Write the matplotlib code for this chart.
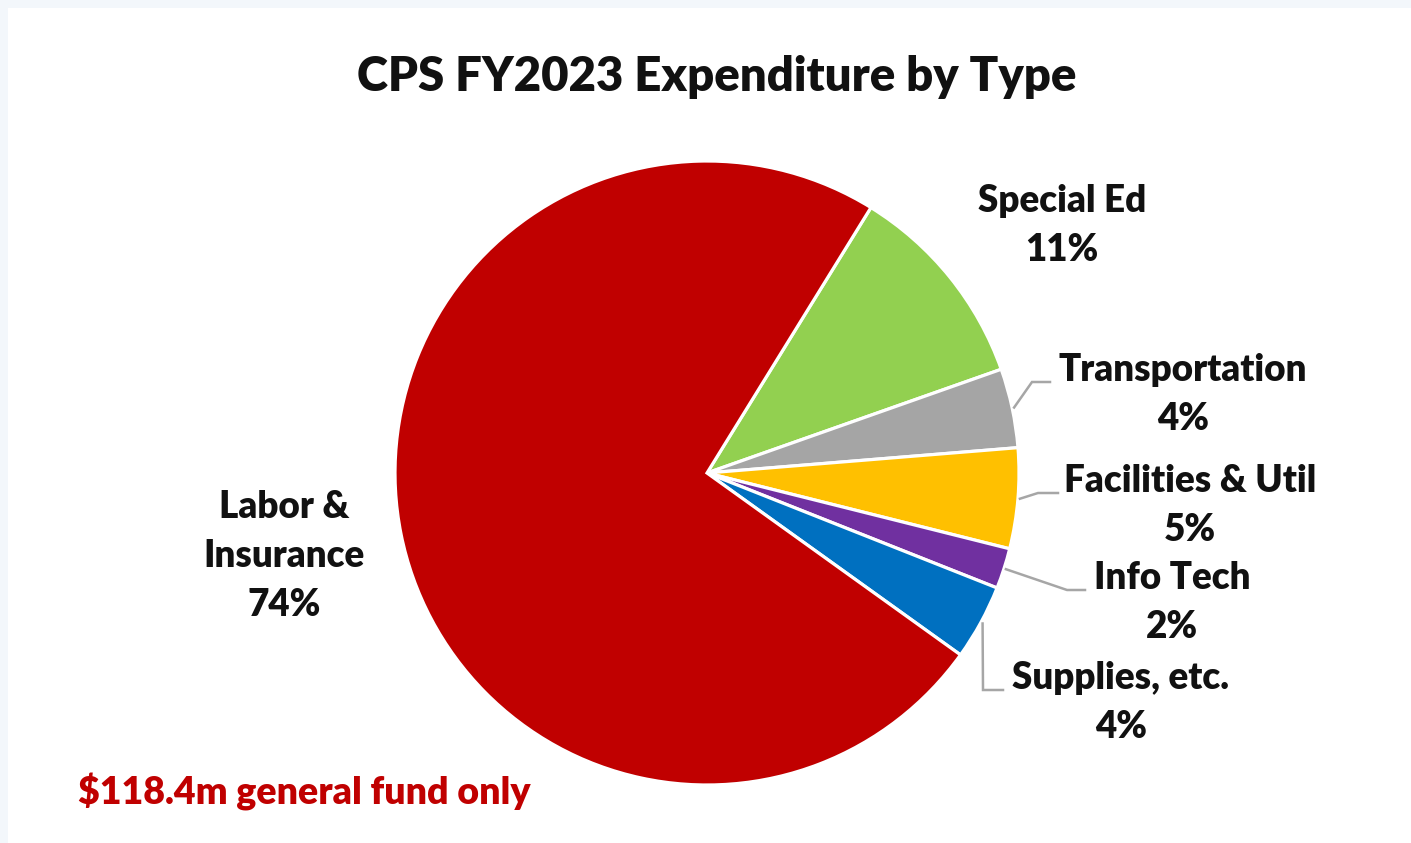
"""
CPS FY2023 지출 유형별 파이 차트
"""

import matplotlib.pyplot as plt
from matplotlib.patches import Rectangle
import numpy as np

# ── 데이터 ──────────────────────────────────────────
CATEGORIES = ["Special Ed", "Transportation", "Facilities & Util",
              "Info Tech", "Supplies, etc.", "Labor &\nInsurance"]
SHARES     = [10.8, 4.1, 5.2, 2.1, 3.9, 73.9]
PCT_TEXT   = ["11%", "4%", "5%", "2%", "4%", "74%"]
COLORS     = ["#92D050", "#A5A5A5", "#FFC000", "#7030A0", "#0070C0", "#C00000"]

TITLE = "CPS FY2023 Expenditure by Type"
NOTE  = "$118.4m general fund only"

# ── 레이아웃 (픽셀, 좌상단 원점) ─────────────────────
W, H = 1411, 843
CENTER = (707, 473)
RADIUS = 312
LINE_GAP = 49
# 라벨 첫 줄 중심
LABEL_TOP = [(1062, 201), (1183, 370), (1190, 481), (1172, 578), (1121, 678), (284, 507)]
# 지시선 (꺾이는 점, 끝점)
LEADERS = [None,
           ((1032, 382), (1050, 382)),
           ((1038, 493), (1058, 493)),
           ((1067, 590), (1085, 590)),
           ((983, 690), (1003, 690)),
           None]

FONT = ["Lato", "DejaVu Sans"]


def px(x, y):
    return x, H - y


fig = plt.figure(figsize=(W / 100, H / 100), dpi=100)
fig.patch.set_facecolor("#F3F7FB")
ax = fig.add_axes([0, 0, 1, 1])
ax.set_facecolor("none")
ax.add_patch(Rectangle((8, 0), W, H - 8, facecolor="white",
                       edgecolor="none", zorder=-10))

wedges, _ = ax.pie(SHARES, colors=COLORS, startangle=58.3, counterclock=False,
                   center=px(*CENTER), radius=RADIUS,
                   wedgeprops=dict(edgecolor="white", linewidth=2.3))
ax.set_xlim(0, W)
ax.set_ylim(0, H)
ax.set_aspect("equal")
ax.axis("off")

cx, cy = px(*CENTER)
for i, w in enumerate(wedges):
    name_lines = CATEGORIES[i].split("\n") + [PCT_TEXT[i]]
    lx, ly = LABEL_TOP[i]
    for k, line in enumerate(name_lines):
        ax.text(*px(lx, ly + k * LINE_GAP), line, ha="center", va="center",
                fontsize=26.5, fontweight="heavy", color="#111111", family=FONT)
    if LEADERS[i] is not None:
        mid = np.deg2rad((w.theta1 + w.theta2) / 2)
        sx, sy = cx + (RADIUS + 2) * np.cos(mid), cy + (RADIUS + 2) * np.sin(mid)
        (ex, ey), (tx, ty) = LEADERS[i]
        ex, ey = px(ex, ey)
        tx, ty = px(tx, ty)
        ax.plot([sx, ex, tx], [sy, ey, ty], color="#A6A6A6", linewidth=1.8,
                solid_joinstyle="miter")

ax.text(*px(717, 77), TITLE, ha="center", va="center", fontsize=34,
        fontweight="heavy", color="#111111", family=FONT)
ax.text(*px(78, 792), NOTE, ha="left", va="center", fontsize=27,
        fontweight="heavy", color="#C00000", family=FONT)

plt.savefig("out.png", dpi=100, facecolor=fig.get_facecolor())
plt.close()
